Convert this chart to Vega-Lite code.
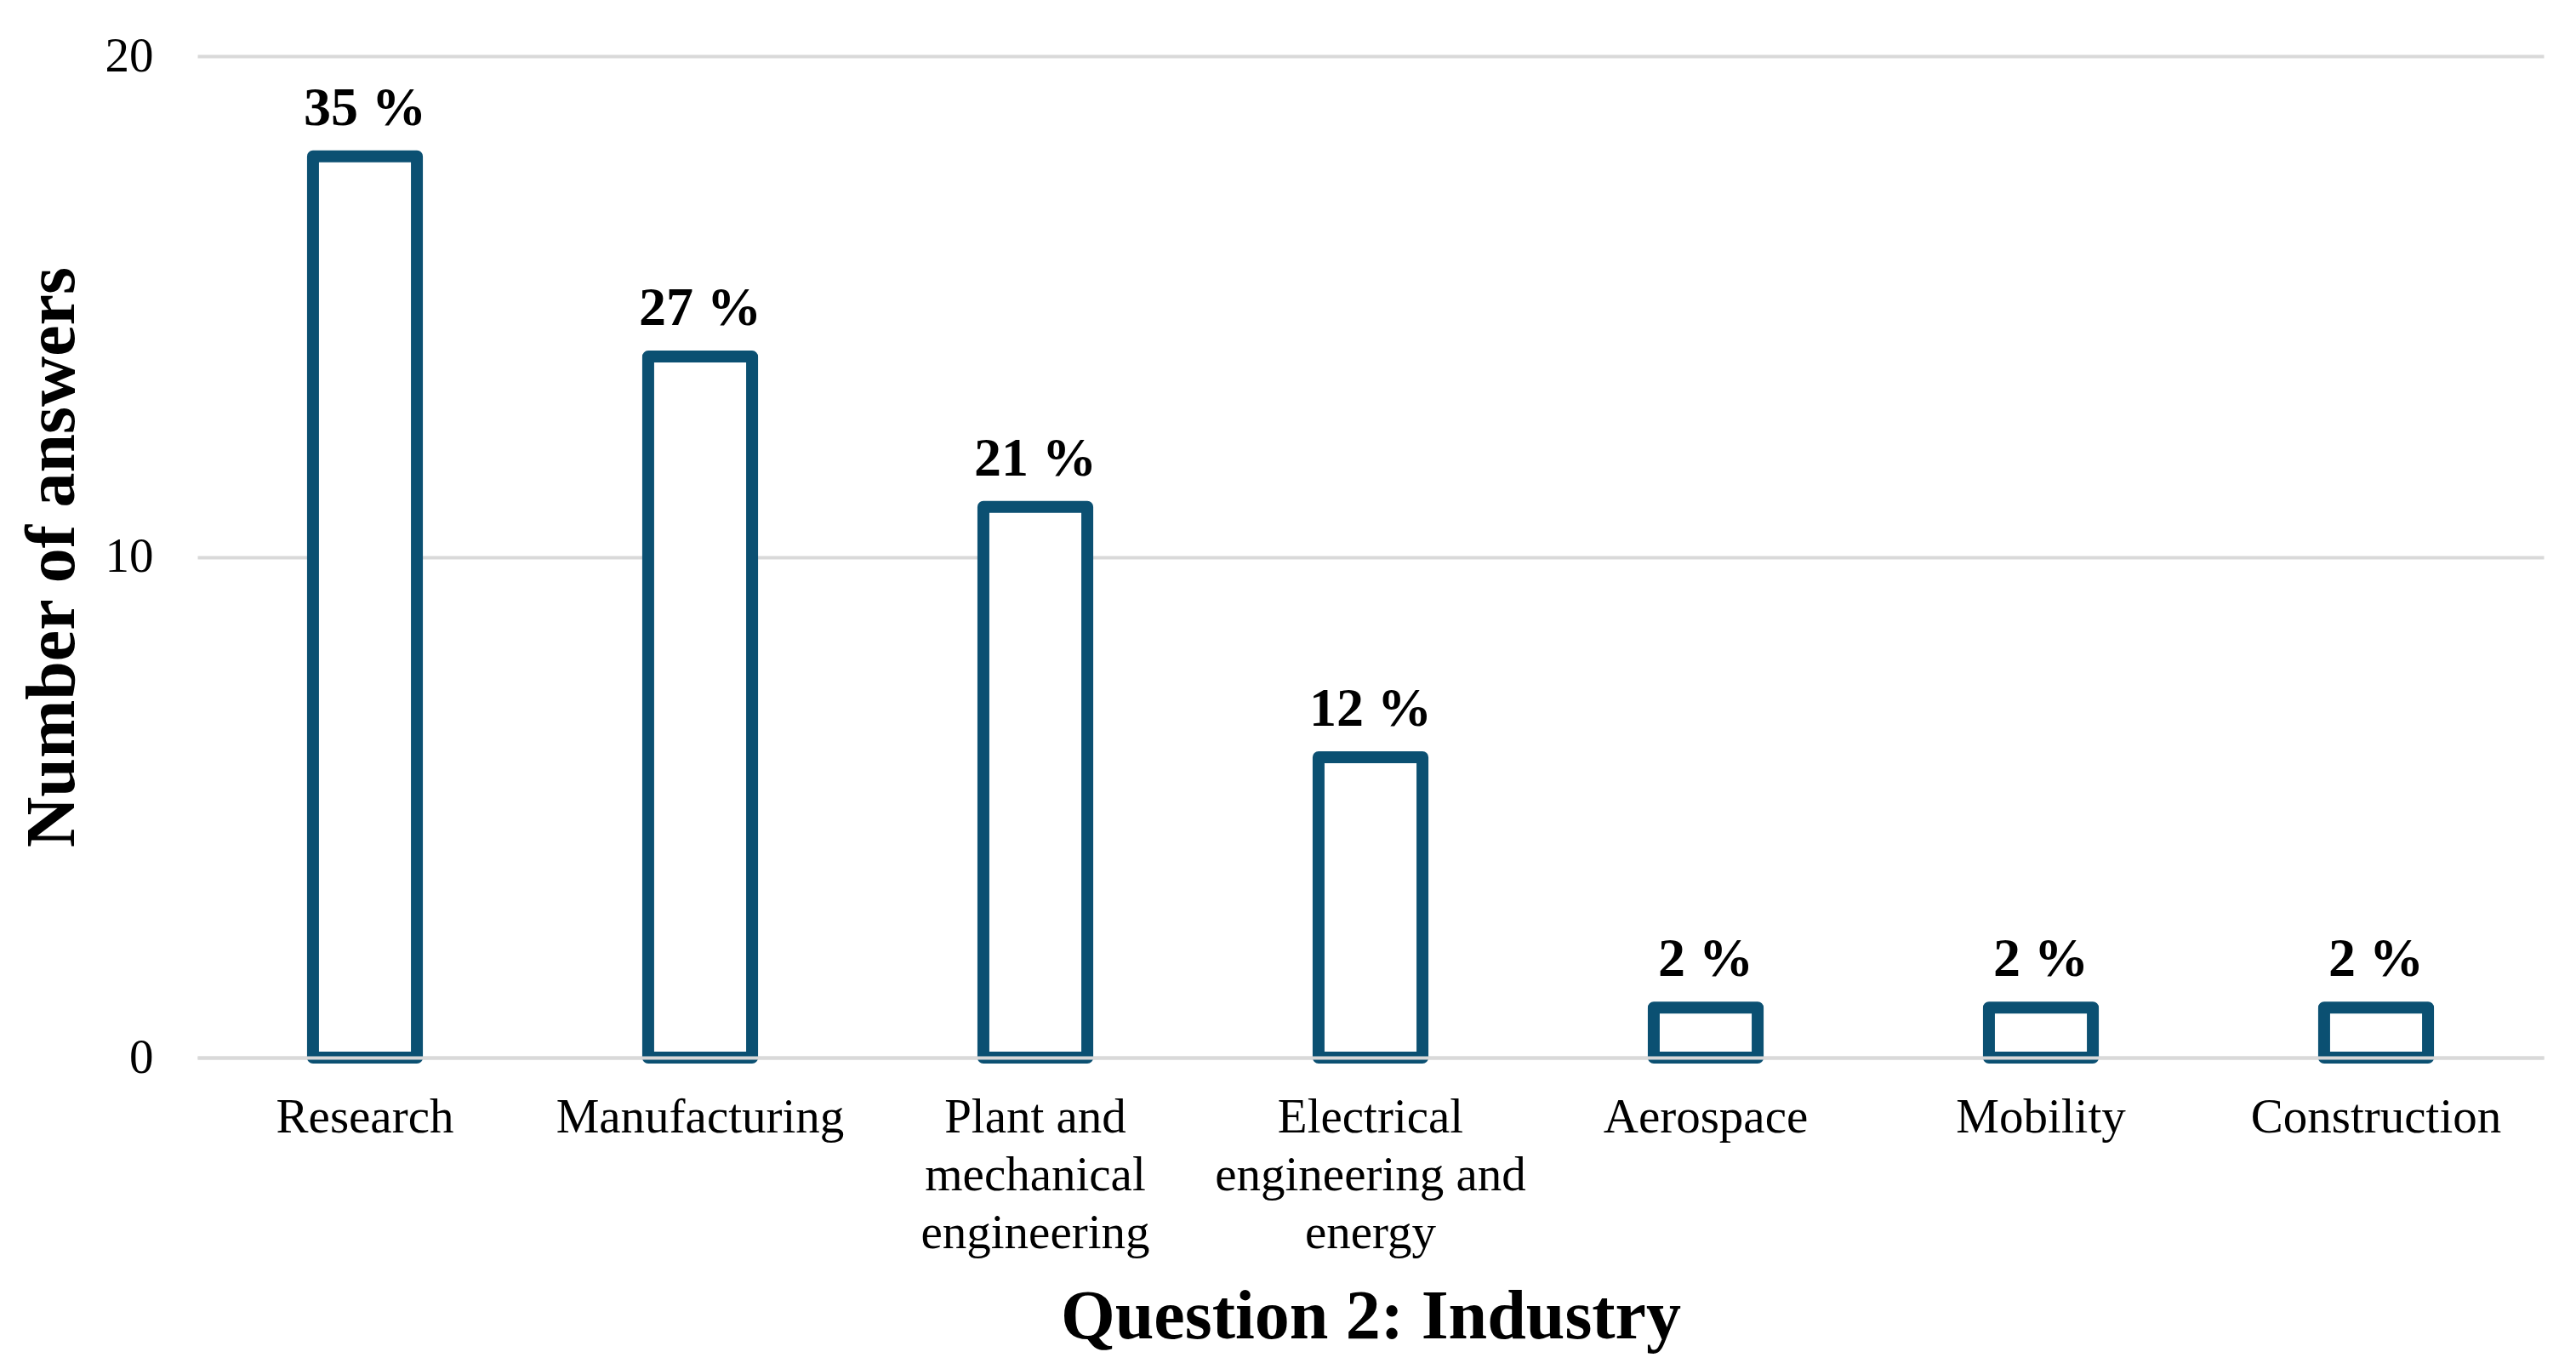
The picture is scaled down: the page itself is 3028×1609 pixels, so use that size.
{
  "$schema": "https://vega.github.io/schema/vega-lite/v6.json",
  "autosize": {"type": "none"},
  "padding": {"left": 232, "top": 66, "right": 38, "bottom": 366},
  "width": 2758,
  "height": 1177,
  "background": "white",
  "config": {
    "view": {"stroke": null},
    "font": "Liberation Serif"
  },
  "data": {
    "values": [
      {"industry": "Research", "answers": 18, "share": "35 %"},
      {"industry": "Manufacturing", "answers": 14, "share": "27 %"},
      {"industry": "Plant and mechanical engineering", "answers": 11, "share": "21 %"},
      {"industry": "Electrical engineering and energy", "answers": 6, "share": "12 %"},
      {"industry": "Aerospace", "answers": 1, "share": "2 %"},
      {"industry": "Mobility", "answers": 1, "share": "2 %"},
      {"industry": "Construction", "answers": 1, "share": "2 %"}
    ]
  },
  "encoding": {
    "x": {
      "field": "industry",
      "type": "nominal",
      "sort": null,
      "scale": {"paddingInner": 0.69, "paddingOuter": 0.345},
      "title": "Question 2: Industry",
      "axis": {
        "zindex": 1,
        "labelAngle": 0,
        "labelFont": "Liberation Serif",
        "labelFontSize": 57,
        "labelColor": "#000000",
        "labelLineHeight": 68,
        "labelPadding": 42,
        "labelLimit": 0,
        "labelExpr": "datum.value == 'Plant and mechanical engineering' ? ['Plant and', 'mechanical', 'engineering'] : datum.value == 'Electrical engineering and energy' ? ['Electrical', 'engineering and', 'energy'] : datum.value",
        "ticks": false,
        "tickSize": 0,
        "domain": true,
        "domainColor": "#d9d9d9",
        "domainWidth": 4,
        "titleFont": "Liberation Serif",
        "titleFontSize": 82,
        "titleFontWeight": "bold",
        "titleColor": "#000000",
        "titlePadding": 64
      }
    },
    "y": {
      "field": "answers",
      "type": "quantitative",
      "scale": {"domain": [0, 20]},
      "title": "Number of answers",
      "axis": {
        "values": [0, 10, 20],
        "grid": true,
        "gridColor": "#d9d9d9",
        "gridWidth": 4,
        "domain": false,
        "ticks": false,
        "tickSize": 0,
        "labelFont": "Liberation Serif",
        "labelFontSize": 57,
        "labelColor": "#000000",
        "labelPadding": 52,
        "titleFont": "Liberation Serif",
        "titleFontSize": 82,
        "titleFontWeight": "bold",
        "titleColor": "#000000",
        "titlePadding": 20
      }
    }
  },
  "layer": [
    {
      "mark": {
        "type": "bar",
        "fill": "#ffffff",
        "stroke": "#0b5072",
        "strokeWidth": 14,
        "strokeJoin": "round"
      }
    },
    {
      "mark": {
        "type": "text",
        "font": "Liberation Serif",
        "fontWeight": "bold",
        "fontSize": 64,
        "color": "#000000",
        "baseline": "alphabetic",
        "dy": -37
      },
      "encoding": {
        "text": {"field": "share", "type": "nominal"}
      }
    }
  ]
}
